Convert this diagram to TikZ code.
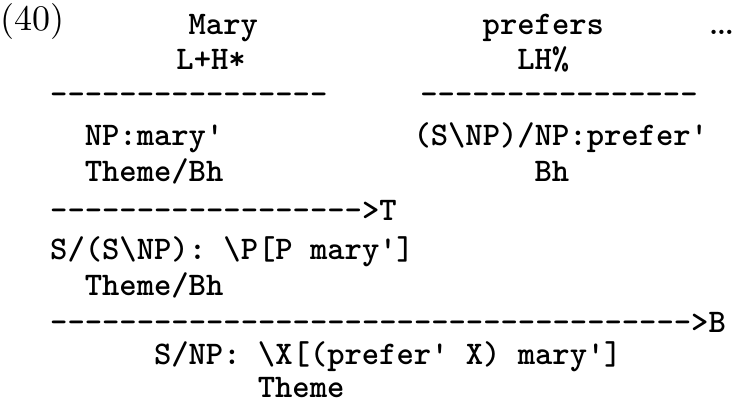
\documentclass[tikz,border=0pt]{standalone}
\usepackage{fontspec}
\newfontfamily\ttb{lmmonolt10-bold}[Extension=.otf]
\newfontfamily\rmb{lmroman10-regular}[Extension=.otf]
\ExplSyntaxOn
\cs_new:Npn \myrep #1 {\prg_replicate:nn{#1}{-{}}}
\ExplSyntaxOff
\tikzset{
  tt/.style={font=\fontsize{33}{40}\selectfont\ttb, inner sep=0pt, anchor=base west},
  rm/.style={font=\fontsize{36}{42}\selectfont\rmb, inner sep=0pt, anchor=base west},
}
\begin{document}
\begin{tikzpicture}[x=1pt,y=-1pt]
\useasboundingbox (0,0) rectangle (737,398);
\def\W{17.3}\def\X{50}
\node[rm] (num) at (0,31) {(40)};
\node[tt] (w1) at ({\X+8*\W},35) {Mary};
\node[tt] (w2) at ({\X+25*\W},35) {prefers};
\node[rm, font=\fontsize{40}{44}\selectfont\rmb, anchor=base east] (dots) at (735,35) {\ldots};
\node[tt] (t1) at ({\X+7.3*\W},70) {L+H*};
\node[tt] (t2) at ({\X+27*\W},70) {LH\%};
\node[tt] (r1) at (\X,105) {\myrep{16}};
\node[tt] (r2) at ({\X+21.4*\W},105) {\myrep{16}};
\node[tt] (c1) at ({\X+2*\W},146) {NP:mary'};
\node[tt] (c2) at ({\X+21*\W},146) {(S\textbackslash NP)/NP:prefer'};
\node[tt] (i1) at ({\X+2*\W},182) {Theme/Bh};
\node[tt] (i2) at ({\X+28*\W},182) {Bh};
\node[tt] (r3) at (\X,221) {\myrep{18}>T};
\node[tt] (c3) at (\X,260) {S/(S\textbackslash NP): \textbackslash P[P mary']};
\node[tt] (i3) at ({\X+2*\W},296) {Theme/Bh};
\node[tt] (r4) at (\X,333) {\myrep{37}>B};
\node[tt] (c4) at ({\X+6*\W},365) {S/NP: \textbackslash X[(prefer' X) mary']};
\node[tt] (i4) at ({\X+12*\W},397) {Theme};
\end{tikzpicture}
\end{document}
